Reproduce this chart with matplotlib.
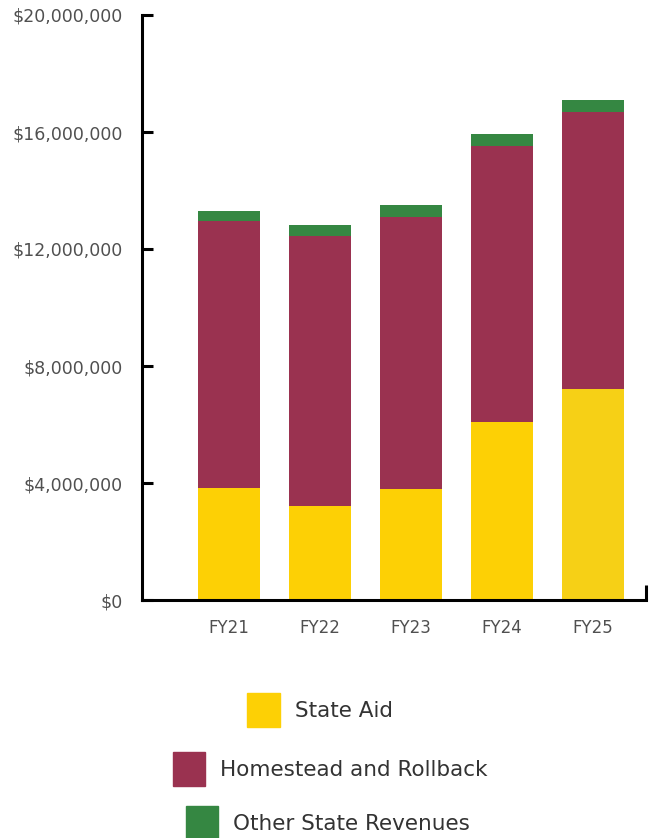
import matplotlib
matplotlib.use("Agg")
import matplotlib.pyplot as plt
from matplotlib.patches import Patch
from matplotlib.ticker import FuncFormatter

years = ["FY21", "FY22", "FY23", "FY24", "FY25"]
state_aid = [3.83e6, 3.22e6, 3.80e6, 6.09e6, 7.22e6]
homestead_rollback = [9.14e6, 9.23e6, 9.30e6, 9.44e6, 9.48e6]
other_revenues = [0.34e6, 0.38e6, 0.41e6, 0.41e6, 0.41e6]

yellow = "#FDD005"
maroon = "#9A3250"
green = "#358742"
text_gray = "#505050"

plt.rcParams["font.family"] = "DejaVu Sans"

fig = plt.figure(figsize=(6.52, 8.38), dpi=100)
ax = fig.add_axes([142 / 652, 1 - 600 / 838, (646 - 142) / 652, (600 - 15) / 838])

x = list(range(len(years)))
width = 0.68
bottom2 = [a + b for a, b in zip(state_aid, homestead_rollback)]
sa_colors = [yellow] * 4 + ["#F6D016"]
ax.bar(x, state_aid, width, color=sa_colors)
ax.bar(x, homestead_rollback, width, bottom=state_aid, color=maroon)
ax.bar(x, other_revenues, width, bottom=bottom2, color=green)

ax.set_xlim(-0.956, 4.58)
ax.set_ylim(0, 20e6)
ax.set_yticks([0, 4e6, 8e6, 12e6, 16e6, 20e6])
ax.yaxis.set_major_formatter(FuncFormatter(lambda v, p: "${:,.0f}".format(v)))
ax.set_xticks(x)
ax.set_xticklabels(years)

for s in ["top", "right"]:
    ax.spines[s].set_visible(False)
for s in ["left", "bottom"]:
    ax.spines[s].set_linewidth(2.2)
    ax.spines[s].set_color("black")
ax.tick_params(axis="y", direction="in", length=8, width=2.2, color="black",
               labelsize=12.5, labelcolor=text_gray, pad=14)
ax.tick_params(axis="x", length=0, labelsize=12, labelcolor=text_gray, pad=14)
# short upright tick at the right end of the x axis
ax.plot([1, 1], [0, 0.026], transform=ax.transAxes, color="black", lw=2.2,
        clip_on=False, solid_capstyle="butt")

labels = ["State Aid", "Homestead and Rollback", "Other State Revenues"]
colors = [yellow, maroon, green]
rows = [1 - 710 / 838, 1 - 769 / 838, 1 - 823 / 838]
centers = [320 / 652, 330 / 652, 328 / 652]
for lab, col, yy, cx in zip(labels, colors, rows, centers):
    fig.legend(handles=[Patch(color=col, label=lab)], loc="center",
               bbox_to_anchor=(cx, yy), frameon=False, fontsize=15.5,
               handlelength=1.5, handleheight=2.0, handletextpad=0.7,
               labelcolor="#333333", borderpad=0)

fig.savefig("out.png", dpi=100)
